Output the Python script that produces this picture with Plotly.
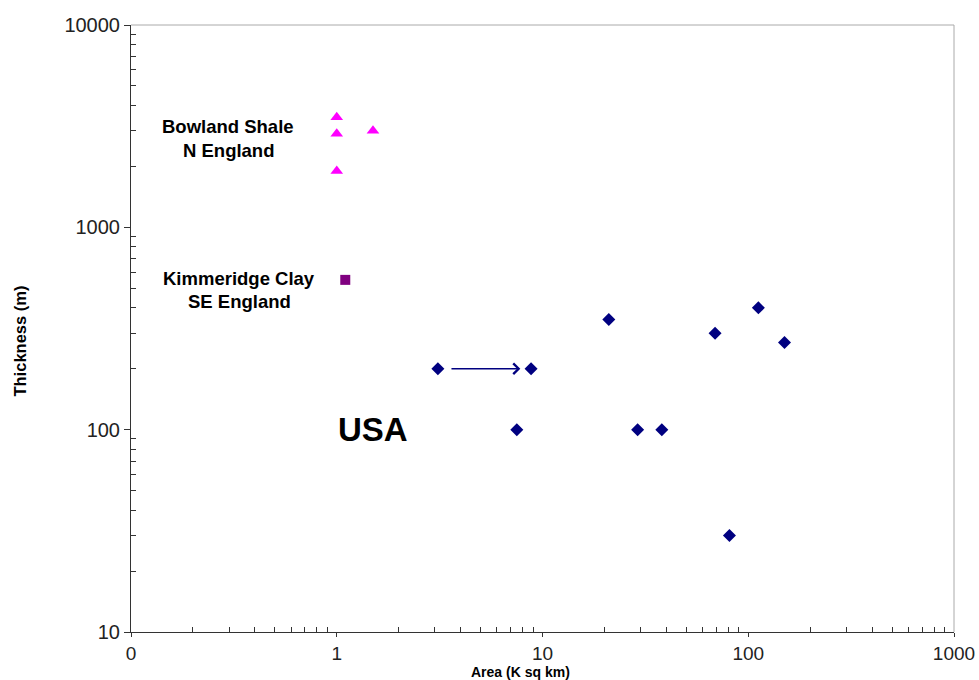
import math
import plotly.graph_objects as go

# ---- data ----
bowland_area = [1.0, 1.0, 1.5, 1.0]
bowland_thick = [3500, 2900, 3000, 1900]

kimmeridge_area = [1.1]
kimmeridge_thick = [550]

usa_area = [3.1, 8.8, 7.5, 21, 69, 112, 150, 29, 38, 81]
usa_thick = [200, 200, 100, 350, 300, 400, 270, 100, 100, 30]

x_tick_vals = [0.1, 1, 10, 100, 1000]
x_tick_text = ["0", "1", "10", "100", "1000"]
y_tick_vals = [10, 100, 1000, 10000]
y_tick_text = ["10", "100", "1000", "10000"]

arrow_from = (3.55, 200)
arrow_to = (7.8, 200)

FONT = "Arial, Liberation Sans, sans-serif"

fig = go.Figure()
fig.add_trace(go.Scatter(x=bowland_area, y=bowland_thick, mode="markers",
                         marker=dict(symbol="triangle-up", size=11, color="#FF00FF"),
                         name="Bowland Shale"))
fig.add_trace(go.Scatter(x=kimmeridge_area, y=kimmeridge_thick, mode="markers",
                         marker=dict(symbol="square", size=10, color="#800080"),
                         name="Kimmeridge Clay"))
fig.add_trace(go.Scatter(x=usa_area, y=usa_thick, mode="markers",
                         marker=dict(symbol="diamond", size=10, color="#000080"),
                         name="USA"))

minor_vals = [d * 10 ** k for k in range(-1, 4) for d in range(2, 10)]

axis_common = dict(
    type="log", showgrid=False, zeroline=False, automargin=False,
    showline=True, linecolor="#333", linewidth=1,
    ticks="outside", tickcolor="#333",
)

fig.update_xaxes(**axis_common, range=[-1, 3], tickmode="array",
                 tickvals=x_tick_vals, ticktext=x_tick_text, ticklen=4,
                 tickfont=dict(family=FONT, size=19, color="#222"),
                 ticklabeloverflow="allow",
                 minor=dict(tickmode="array", tickvals=minor_vals, ticks="inside",
                            ticklen=5, tickcolor="#333"))
fig.update_yaxes(**axis_common, range=[1, 4], tickmode="array",
                 tickvals=y_tick_vals, ticktext=y_tick_text, ticklen=6,
                 tickfont=dict(family=FONT, size=20, color="#222"),
                 minor=dict(tickmode="array", tickvals=minor_vals, ticks="inside",
                            ticklen=5, tickcolor="#333"))

# top and right frame lines (gray)
fig.add_shape(type="line", xref="paper", yref="paper", x0=0, x1=1, y0=1, y1=1,
              line=dict(color="#aaaaaa", width=1))
fig.add_shape(type="line", xref="paper", yref="paper", x0=1, x1=1, y0=0, y1=1,
              line=dict(color="#aaaaaa", width=1))

labels = [
    ("Bowland Shale", 0.297, 3150, 18.5),
    ("N England", 0.297, 2400, 18.5),
    ("Kimmeridge Clay", 0.336, 560, 18.5),
    ("SE England", 0.336, 432, 18.5),
    ("USA", 1.5, 100, 33),
]
for txt, lx, ly, fs in labels:
    fig.add_annotation(x=math.log10(lx), y=math.log10(ly), xref="x", yref="y",
                       text="<b>%s</b>" % txt, showarrow=False,
                       font=dict(family=FONT, size=fs, color="#000"))

fig.add_annotation(x=math.log10(arrow_to[0]), y=math.log10(arrow_to[1]),
                   ax=math.log10(arrow_from[0]), ay=math.log10(arrow_from[1]),
                   xref="x", yref="y", axref="x", ayref="y",
                   showarrow=True, arrowhead=4, arrowsize=1.3, arrowwidth=1.6,
                   arrowcolor="#000080", text="")

fig.add_annotation(x=0.473, y=-0.0659, xref="paper", yref="paper",
                   xanchor="center", yanchor="middle",
                   text="<b>Area (K sq km)</b>", showarrow=False,
                   font=dict(family=FONT, size=14, color="#000"))
fig.add_annotation(x=-0.135, y=0.48, xref="paper", yref="paper",
                   xanchor="center", yanchor="middle",
                   text="<b>Thickness (m)</b>", showarrow=False, textangle=-90,
                   font=dict(family=FONT, size=16.5, color="#000"))

fig.update_layout(
    width=979, height=680,
    margin=dict(l=131, r=25, t=25, b=48, autoexpand=False),
    plot_bgcolor="white", paper_bgcolor="white",
    showlegend=False,
)

fig.write_html("out.html", config={"displayModeBar": False},
               post_script="document.body.style.margin='0';document.body.style.overflow='hidden';")
